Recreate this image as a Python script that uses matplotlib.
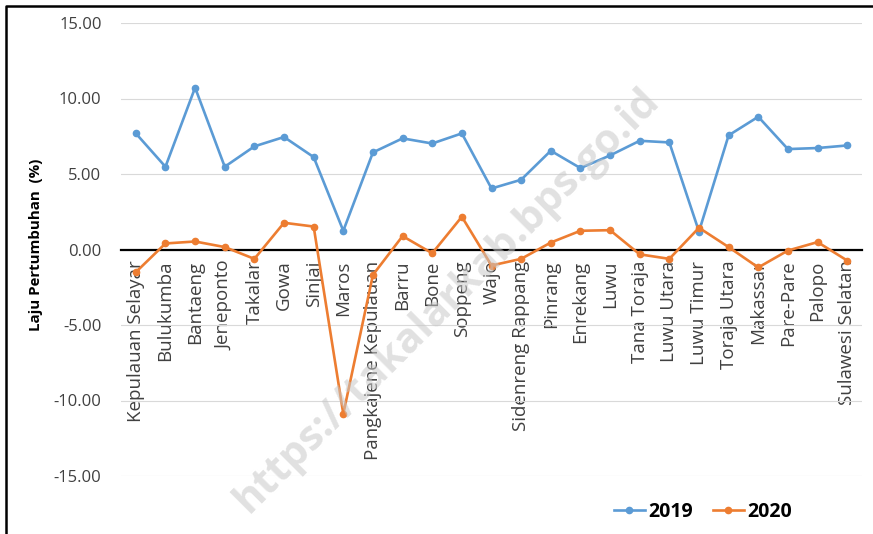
import numpy as np
import matplotlib.pyplot as plt
from matplotlib.lines import Line2D

plt.rcParams['font.family'] = ['Open Sans', 'DejaVu Sans']
plt.rcParams['axes.unicode_minus'] = False

REGIONS = ['Kepulauan Selayar', 'Bulukumba', 'Bantaeng', 'Jeneponto', 'Takalar',
           'Gowa', 'Sinjai', 'Maros', 'Pangkajene Kepulauan', 'Barru', 'Bone',
           'Soppeng', 'Wajo', 'Sidenreng Rappang', 'Pinrang', 'Enrekang', 'Luwu',
           'Tana Toraja', 'Luwu Utara', 'Luwu Timur', 'Toraja Utara', 'Makassar',
           'Pare-Pare', 'Palopo', 'Sulawesi Selatan']

GROWTH_2019 = [7.69, 5.48, 10.72, 5.48, 6.83, 7.45, 6.12, 1.24, 6.43, 7.36, 7.02,
               7.69, 4.04, 4.62, 6.54, 5.39, 6.23, 7.20, 7.09, 1.19, 7.56, 8.79,
               6.65, 6.72, 6.89]

GROWTH_2020 = [-1.50, 0.40, 0.53, 0.16, -0.62, 1.77, 1.52, -10.89, -1.68, 0.89, -0.25,
               2.17, -1.06, -0.62, 0.46, 1.24, 1.28, -0.32, -0.62, 1.44, 0.16, -1.19,
               -0.07, 0.49, -0.73]

Y_TICKS = [-15, -10, -5, 0, 5, 10, 15]

BLUE = '#5B9BD5'
ORANGE = '#ED7D31'


def main():
    fig = plt.figure(figsize=(8.73, 5.34), dpi=100)
    ax = fig.add_axes([121 / 873, 1 - 476 / 534, 741 / 873, 453 / 534])

    x = np.arange(len(REGIONS))
    ax.plot(x, GROWTH_2019, color=BLUE, lw=1.9, marker='o', ms=4.5, label='2019', zorder=3)
    ax.plot(x, GROWTH_2020, color=ORANGE, lw=1.9, marker='o', ms=4.5, label='2020', zorder=3)

    ax.set_xlim(-0.5, len(REGIONS) - 0.5)
    ax.set_ylim(-15, 15)
    ax.set_yticks(Y_TICKS)
    ax.set_yticklabels(['%.2f' % v for v in Y_TICKS], fontsize=12, color='#404040')
    ax.yaxis.grid(True, color='#D9D9D9', lw=0.8)
    ax.set_axisbelow(True)

    for side in ['top', 'right', 'left']:
        ax.spines[side].set_visible(False)
    ax.spines['bottom'].set_position(('data', 0))
    ax.spines['bottom'].set_color('black')
    ax.spines['bottom'].set_linewidth(1.6)
    ax.spines['bottom'].set_zorder(2)

    ax.set_xticks(x)
    ax.set_xticklabels(REGIONS, rotation=90, fontsize=13.5, color='#404040', va='top')
    ax.tick_params(axis='x', length=0, pad=8)
    ax.tick_params(axis='y', length=0, pad=14)

    fig.text(36 / 873, 1 - 245 / 534, 'Laju Pertumbuhan  (%)', rotation=90,
             ha='center', va='center', fontsize=10.8, fontweight='bold')

    fig.legend(loc='center', bbox_to_anchor=(703 / 873, 1 - 512 / 534), ncol=2,
               frameon=False, handlelength=1.6, handletextpad=0.2, columnspacing=1.0,
               prop={'weight': 'bold', 'size': 14})

    fig.text(447 / 873, 1 - 300 / 534, 'https://takalarkab.bps.go.id', rotation=45,
             ha='center', va='center', fontsize=30, fontweight='bold',
             color='#C8C8C8', alpha=0.55, zorder=5)

    # outer frame (top and left edges visible)
    fig.add_artist(Line2D([6 / 873, 6 / 873, 1.0], [0.0, 1 - 6 / 534, 1 - 6 / 534],
                          transform=fig.transFigure, color='black', lw=1.8))

    fig.savefig('out.png', dpi=100)


if __name__ == '__main__':
    main()
